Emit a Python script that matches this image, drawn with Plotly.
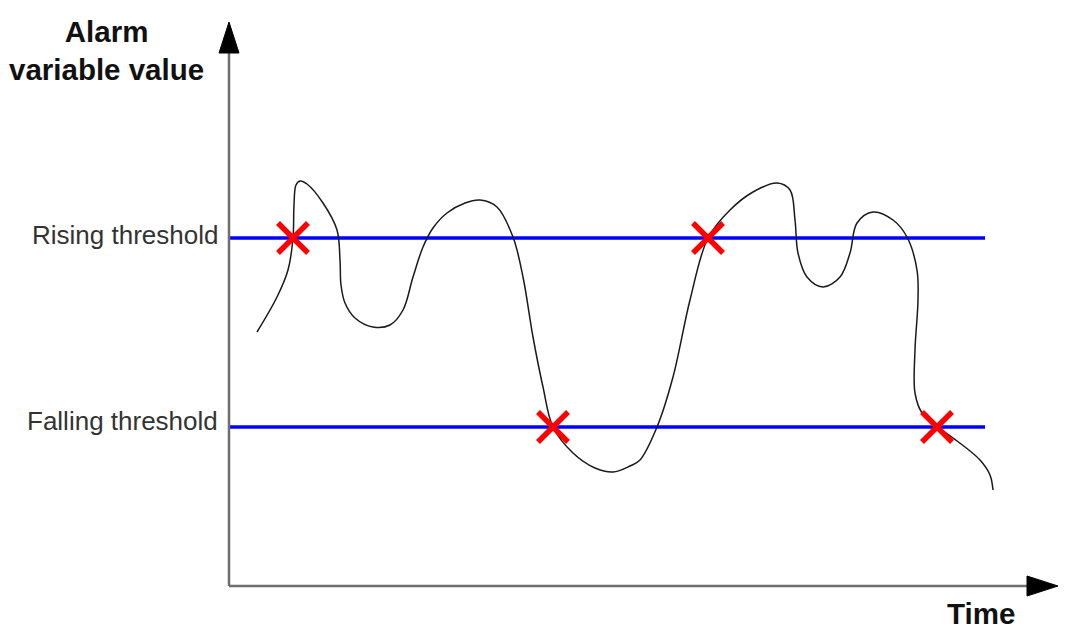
import plotly.graph_objects as go

# ---- data (time units, value units) ----
curve_t = [28, 48, 59, 64, 65, 67, 71, 78, 94, 108, 111, 112, 116, 126, 144, 161, 174, 184, 194, 204,
           218, 236, 251, 268, 284, 294, 304, 314, 324, 344, 366, 384, 401, 411, 428, 444, 461, 479,
           501, 524, 548, 561, 566, 569, 578, 594, 611, 621, 628, 644, 664, 678, 688, 689, 686, 686,
           693, 708, 724, 751, 761, 764]
curve_v = [254, 289, 316, 348, 381, 401, 405, 402, 383, 356, 326, 301, 283, 268, 259, 261, 276, 309, 339, 358,
           373, 383, 386, 379, 349, 309, 249, 199, 159, 133, 118, 114, 120, 126, 159, 209, 286, 348,
           376, 394, 403, 396, 366, 333, 309, 299, 309, 333, 363, 374, 366, 349, 316, 286, 236, 193,
           173, 159, 148, 126, 111, 96]

rising_threshold = 348
falling_threshold = 159
threshold_end = 756

alarm_t = [64, 324, 479, 708]
alarm_v = [rising_threshold, falling_threshold, rising_threshold, falling_threshold]

threshold_labels = ["Rising threshold", "Falling threshold"]
y_title = "Alarm<br>variable value"
x_title = "Time"

# axis extents (page body has an 8px margin, compensated in the ranges)
x_range = [-221, 837]
y_range = [-54, 578]
y_axis_top = 533
y_arrow_tip = 564
x_axis_end = 798
x_arrow_tip = 829
arrow_half = 10

fig = go.Figure()

for thr in [rising_threshold, falling_threshold]:
    fig.add_trace(go.Scatter(x=[0, threshold_end], y=[thr, thr], mode="lines",
                             line=dict(color="#0000ff", width=3.5), hoverinfo="skip"))

fig.add_trace(go.Scatter(x=curve_t, y=curve_v, mode="lines",
                         line=dict(color="#1a1a1a", width=1.5, shape="spline", smoothing=1.0),
                         hoverinfo="skip"))

fig.add_trace(go.Scatter(x=alarm_t, y=alarm_v, mode="markers",
                         marker=dict(symbol="x-thin", size=30,
                                     line=dict(color="#ff0000", width=5.5), color="#ff0000"),
                         hoverinfo="skip"))

# axes lines
fig.add_shape(type="line", x0=0, y0=0, x1=0, y1=y_axis_top, line=dict(color="#6e6e6e", width=2.5))
fig.add_shape(type="line", x0=0, y0=0, x1=x_axis_end, y1=0, line=dict(color="#6e6e6e", width=2.5))
# arrowheads
fig.add_shape(type="path",
              path=f"M {-arrow_half},{y_axis_top} L {arrow_half},{y_axis_top} L 0,{y_arrow_tip} Z",
              fillcolor="black", line=dict(color="black", width=1))
fig.add_shape(type="path",
              path=f"M {x_axis_end},{-arrow_half} L {x_axis_end},{arrow_half} L {x_arrow_tip},0 Z",
              fillcolor="black", line=dict(color="black", width=1))

# labels
fig.add_annotation(x=-9, y=rising_threshold, text=threshold_labels[0], showarrow=False,
                   xanchor="right", yanchor="middle", yshift=3,
                   font=dict(family="Liberation Sans, Arial", size=26, color="#333333"))
fig.add_annotation(x=-9, y=falling_threshold, text=threshold_labels[1], showarrow=False,
                   xanchor="right", yanchor="middle", yshift=6,
                   font=dict(family="Liberation Sans, Arial", size=26, color="#333333"))
fig.add_annotation(x=-123, y=536, text=f"<b>{y_title}</b>", showarrow=False,
                   xanchor="center", yanchor="middle", align="center",
                   font=dict(family="Liberation Sans, Arial", size=29.5, color="#111111"))
fig.add_annotation(x=752, y=-27, text=f"<b>{x_title}</b>", showarrow=False,
                   xanchor="center", yanchor="middle",
                   font=dict(family="Liberation Sans, Arial", size=29.5, color="#111111"))

fig.update_layout(
    width=1058, height=632,
    margin=dict(l=0, r=0, t=0, b=0),
    paper_bgcolor="white", plot_bgcolor="white",
    showlegend=False,
    xaxis=dict(range=x_range, visible=False, fixedrange=True),
    yaxis=dict(range=y_range, visible=False, fixedrange=True),
)

fig.write_html("out.html")
